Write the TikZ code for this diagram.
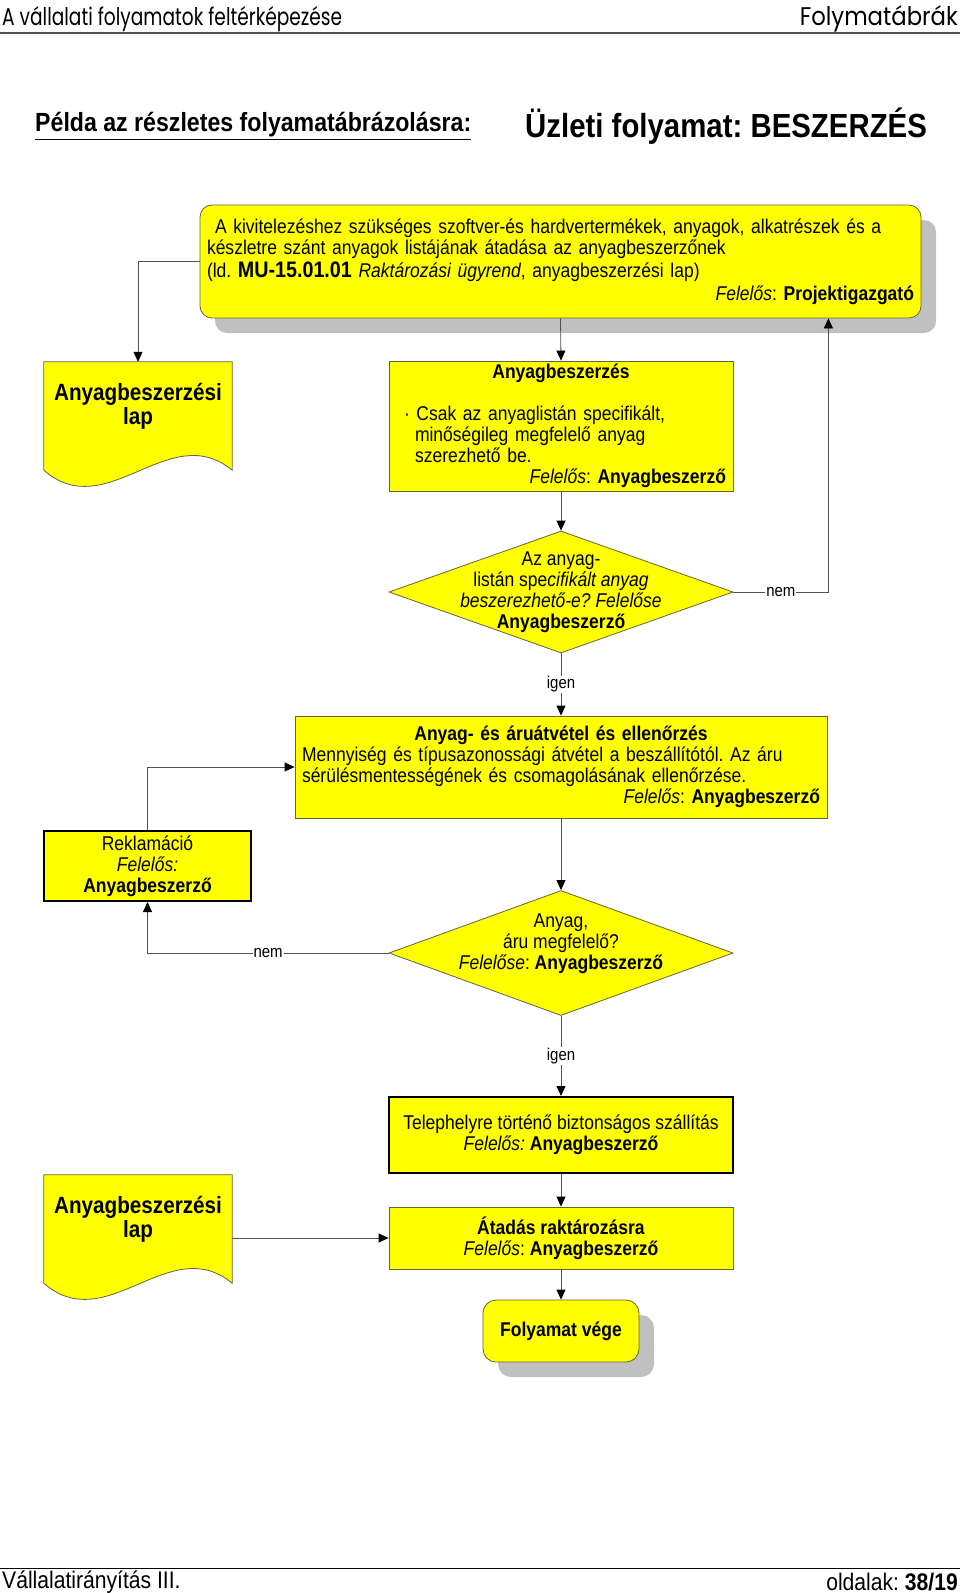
\documentclass[tikz,border=0pt]{standalone}
\usepackage{fontspec}
\usepackage{graphicx}
\setmainfont{Liberation Sans}[FakeStretch=0.88]
\newfontfamily\headfont{Poppins}
\usetikzlibrary{arrows.meta,shapes.geometric,shadows,backgrounds}
\frenchspacing
\definecolor{boxyellow}{RGB}{255,255,0}
\definecolor{boxline}{RGB}{100,100,60}
\definecolor{connline}{RGB}{80,80,80}
\definecolor{shadowgray}{RGB}{192,192,192}
\tikzset{
	bodytext/.style={font=\fontsize{19.9}{21}\selectfont},
	stepbox/.style={rectangle, draw=boxline, fill=boxyellow, line width=0.8pt, inner xsep=7pt, inner ysep=0pt, align=left, bodytext},
	thickbox/.style={stepbox, draw=black, line width=2pt, align=center},
	startbox/.style={stepbox, rounded corners=12pt, drop shadow={shadow xshift=15pt, shadow yshift=-15pt, fill=shadowgray, opacity=1}},
	decision/.style={diamond, draw=boxline, fill=boxyellow, line width=0.8pt, inner sep=0pt},
	dtext/.style={align=center, inner sep=0pt, bodytext},
	docnode/.style={rectangle, inner sep=0pt, minimum width=188pt, minimum height=89pt, align=center, font=\fontsize{23.5}{24}\selectfont\bfseries},
	docline/.style={draw=boxline, fill=boxyellow, line width=0.8pt},
	conn/.style={draw=connline, line width=0.8pt, -{Triangle[length=10pt,width=9pt,color=black]}},
	lbl/.style={fill=white, inner sep=1pt, font=\fontsize{17}{17}\selectfont},
}
\begin{document}
\begin{tikzpicture}[x=1pt,y=-1pt]
	\useasboundingbox (0,0) rectangle (960,1593);

	\node[anchor=base west, inner sep=0pt] (headl) at (2,25.5) {\resizebox{340pt}{19pt}{\headfont A vállalati folyamatok feltérképezése}};
	\node[anchor=base east, inner sep=0pt] (headr) at (958,25.5) {\resizebox{158pt}{20pt}{\headfont Folymatábrák}};
	\draw[line width=1.5pt, connline] (0,33) -- (960,33);

	\node[anchor=west, inner sep=0pt, font=\fontsize{26.3}{28}\selectfont\bfseries] (ttl) at (35,126) {\underline{Példa az részletes folyamatábrázolásra:}};
	\node[anchor=west, inner sep=0pt, font=\fontsize{33.4}{36}\selectfont\bfseries] (ttr) at (525,126) {Üzleti folyamat: BESZERZÉS};

	\node[startbox, minimum width=721pt, minimum height=113pt, text width=707pt] (start) at (560.5,261.5) {%
		\hspace*{8pt}A kivitelezéshez szükséges szoftver-és hardvertermékek, anyagok, alkatrészek és a\\
		készletre szánt anyagok listájának átadása az anyagbeszerzőnek\\[2pt]
		(ld. {\fontsize{22.4}{21}\selectfont\bfseries MU-15.01.01} \textit{Raktározási ügyrend}, anyagbeszerzési lap)\\[2pt]
		\mbox{}\hfill\textit{Felelős}: \textbf{Projektigazgató}};

	\node[docnode] (doc1) at (138,406.5) {Anyagbeszerzési\\lap};
	\node[stepbox, minimum width=344pt, minimum height=130pt, text width=330pt] (beszerzes) at (561,426) {%
		\mbox{}\hfill\textbf{Anyagbeszerzés}\hfill\mbox{}\\[21pt]
		\hspace*{8pt}· Csak az anyaglistán specifikált,\\
		\hspace*{19pt}minőségileg megfelelő anyag\\
		\hspace*{19pt}szerezhető be.\\
		\mbox{}\hfill\textit{Felelős}: \textbf{Anyagbeszerző}};

	\node[decision, minimum width=344pt, minimum height=122pt] (d1) at (561,592) {};
	\node[dtext] (d1t) at (d1) {Az anyag-\\listán spe\textit{cifikált anyag}\\\textit{beszerezhető-e? Felelőse}\\\textbf{Anyagbeszerző}};

	\node[stepbox, minimum width=532pt, minimum height=102pt, text width=518pt] (atvetel) at (561,767) {%
		\mbox{}\hfill\textbf{Anyag- és áruátvétel és ellenőrzés}\hfill\mbox{}\\
		Mennyiség és típusazonossági átvétel a beszállítótól. Az áru\\
		sérülésmentességének és csomagolásának ellenőrzése.\\
		\mbox{}\hfill\textit{Felelős}: \textbf{Anyagbeszerző}};

	\node[thickbox, minimum width=207pt, minimum height=70pt] (rekl) at (147.5,866) {Reklamáció\\\textit{Felelős:}\\\textbf{Anyagbeszerző}};

	\node[decision, minimum width=344pt, minimum height=125pt] (d2) at (561,953) {};
	\node[dtext] (d2t) at (561,944) {Anyag,\\áru megfelelő?\\\textit{Felelőse}: \textbf{Anyagbeszerző}};

	\node[thickbox, minimum width=344pt, minimum height=76pt] (telep) at (561,1135) {Telephelyre történő biztonságos szállítás\\\textit{Felelős:} \textbf{Anyagbeszerző}};
	\node[stepbox, align=center, minimum width=344pt, minimum height=62pt] (atadas) at (561,1238) {\textbf{Átadás raktározásra}\\\textit{Felelős}: \textbf{Anyagbeszerző}};
	\node[docnode] (doc2) at (138,1219.5) {Anyagbeszerzési\\lap};
	\node[startbox, align=center, rounded corners=13pt, minimum width=156pt, minimum height=62pt] (vege) at (561,1331) {\textbf{Folyamat vége}};

	\begin{scope}[on background layer]
		\fill[white] (0,0) rectangle (960,1593);
		\foreach \d in {doc1,doc2}
			\draw[docline] (\d.north west) -- (\d.north east) -- ([yshift=-19pt]\d.south east) .. controls ([xshift=-63pt,yshift=33pt]\d.south east) and ([xshift=63pt,yshift=-74pt]\d.south west) .. ([yshift=-19pt]\d.south west) -- cycle;
	\end{scope}

	\draw[conn] (start.west) -| (doc1.north);
	\draw[conn] (start.south) -- (beszerzes.north);
	\draw[conn] (beszerzes.south) -- (d1.north);
	\draw[conn] (d1.east) -| node[lbl, pos=0.25] {nem} ([xshift=-93pt]start.south east);
	\draw[conn] (d1.south) -- node[lbl] {igen} (atvetel.north);
	\draw[conn] (rekl.north) |- (atvetel.west);
	\draw[conn] (atvetel.south) -- (d2.north);
	\draw[conn] (d2.west) -| node[lbl, pos=0.25] {nem} (rekl.south);
	\draw[conn] (d2.south) -- node[lbl] {igen} (telep.north);
	\draw[conn] (telep.south) -- (atadas.north);
	\draw[conn] (doc2.east |- atadas.west) -- (atadas.west);
	\draw[conn] (atadas.south) -- (vege.north);

	\draw[line width=1pt] (0,1568) -- (960,1568);
	\node[anchor=west, inner sep=0pt, font=\fontsize{24}{24}\selectfont] (footl) at (2,1582) {Vállalatirányítás III.};
	\node[anchor=east, inner sep=0pt, font=\fontsize{24}{24}\selectfont] (footr) at (958,1582) {oldalak: \textbf{38/19}};
\end{tikzpicture}
\end{document}
